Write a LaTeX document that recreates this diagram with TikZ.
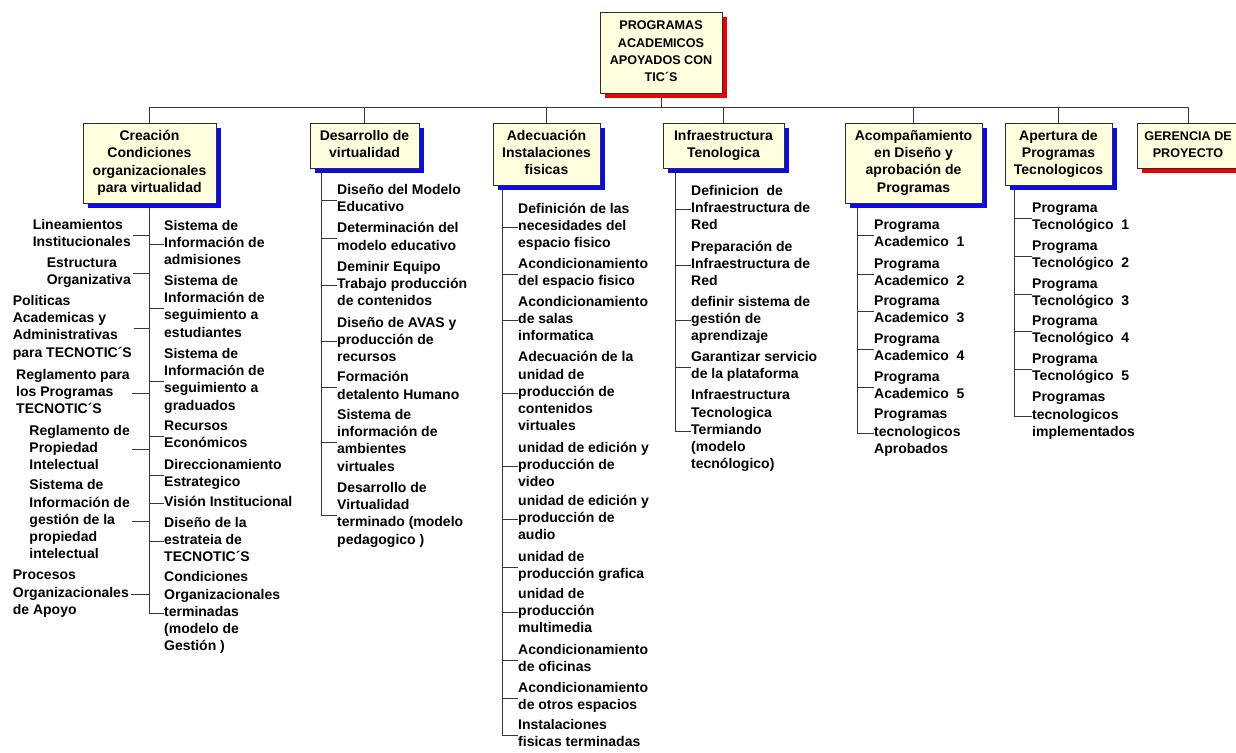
\documentclass[tikz,border=0pt]{standalone}
\usepackage{fontspec}
\setmainfont{Liberation Sans}
\usetikzlibrary{shadows,backgrounds}
\definecolor{boxfill}{RGB}{255,255,224}
\definecolor{boxline}{RGB}{45,45,45}
\definecolor{connline}{RGB}{55,55,55}
\definecolor{shblue}{RGB}{10,10,235}
\definecolor{shred}{RGB}{240,0,0}
\newcommand{\wbsfont}{\fontsize{14}{17.3}\selectfont\bfseries}
\newcommand{\capsfont}{\fontsize{12.6}{17.3}\selectfont\bfseries}
% struts placed inside the first and last line of every text
\newcommand{\stA}{\rule[-3pt]{0pt}{13pt}}
\newcommand{\stB}{\rule[-3.5pt]{0pt}{13pt}}
\tikzset{
  wbs/.style={draw=boxline, line width=0.9pt, fill=boxfill, align=center,
    font=\wbsfont, inner sep=0pt},
  capsbox/.style={wbs, font=\capsfont},
  blueshadow/.style={drop shadow={shadow xshift=5pt, shadow yshift=-5pt,
    fill=shblue, opacity=1}},
  redshadow/.style={drop shadow={shadow xshift=5pt, shadow yshift=-5pt,
    fill=shred, opacity=1}},
  item/.style={anchor=west, align=left, font=\wbsfont, inner sep=0pt},
  itemL/.style={item, anchor=east},
  conn/.style={draw=connline, line width=0.9pt}
}
\begin{document}
\begin{tikzpicture}[x=1pt,y=-1pt]
\path[use as bounding box] (0,0) rectangle (1236,752);
\clip (0,0) rectangle (1236,752);

% ---- boxes ----
\node[capsbox, redshadow, minimum width=122pt, minimum height=81pt] (top) at (661,52.5)
  {\stA PROGRAMAS\\ACADEMICOS\\APOYADOS CON\\TIC´S\stB};
\node[wbs, blueshadow, minimum width=133pt, minimum height=80pt] (c1) at (149.5,163)
  {\stA Creación\\Condiciones\\organizacionales\\para virtualidad\stB};
\node[wbs, blueshadow, minimum width=109pt, minimum height=45pt] (c2) at (364.5,145.5)
  {\stA Desarrollo de\\virtualidad\stB};
\node[wbs, blueshadow, minimum width=107pt, minimum height=62pt] (c3) at (546.5,154)
  {\stA Adecuación\\Instalaciones\\fisicas\stB};
\node[wbs, blueshadow, minimum width=121pt, minimum height=45pt] (c4) at (723.5,145.5)
  {\stA Infraestructura\\Tenologica\stB};
\node[wbs, blueshadow, minimum width=137pt, minimum height=80pt] (c5) at (913.5,163)
  {\stA Acompañamiento\\en Diseño y\\aprobación de\\Programas\stB};
\node[wbs, blueshadow, minimum width=107pt, minimum height=62pt] (c6) at (1058.5,154)
  {\stA Apertura de\\Programas\\Tecnologicos\stB};
\node[capsbox, redshadow, minimum width=102pt, minimum height=45pt] (c7) at (1188,145.5)
  {\stA GERENCIA DE\\PROYECTO\stB};

\coordinate (bus) at (0,107);
\coordinate (k1) at (c1.south);
\coordinate (k2) at ([xshift=12pt]c2.south west);
\coordinate (k3) at ([xshift=10pt]c3.south west);
\coordinate (k4) at ([xshift=13pt]c4.south west);
\coordinate (k5) at ([xshift=13pt]c5.south west);
\coordinate (k6) at ([xshift=10pt]c6.south west);

% ---- Creación: left items ----
\node[itemL] (L1) at (131,235) {\stA Lineamientos\\Institucionales\stB};
\node[itemL] (L2) at (131,273) {\stA Estructura\\Organizativa\stB};
\node[itemL] (L3) at (132,328) {\stA Politicas\\Academicas y\\Administrativas\\para TECNOTIC´S\stB};
\node[itemL] (L4) at (130,393) {\stA Reglamento para\\los Programas\\TECNOTIC´S\stB};
\node[itemL] (L5) at (130,449) {\stA Reglamento de\\Propiedad\\Intelectual\stB};
\node[itemL] (L6) at (130,521) {\stA Sistema de\\Información de\\gestión de la\\propiedad\\intelectual\stB};
\node[itemL] (L7) at (129,594) {\stA Procesos\\Organizacionales\\de Apoyo\stB};
% ---- Creación: right items ----
\node[item] (R1) at (164,244) {\stA Sistema de\\Información de\\admisiones\stB};
\node[item] (R2) at (164,308) {\stA Sistema de\\Información de\\seguimiento a\\estudiantes\stB};
\node[item] (R3) at (164,381) {\stA Sistema de\\Información de\\seguimiento a\\graduados\stB};
\node[item] (R4) at (164,436) {\stA Recursos\\Económicos\stB};
\node[item] (R5) at (164,475) {\stA Direccionamiento\\Estrategico\stB};
\node[item] (R6) at (164,503) {\stA Visión Institucional\stB};
\node[item] (R7) at (164,541) {\stA Diseño de la\\estrateia de\\TECNOTIC´S\stB};
\node[item] (R8) at (164,613) {\stA Condiciones\\Organizacionales\\terminadas\\(modelo de\\Gestión )\stB};

% ---- Desarrollo ----
\node[item] (D1) at (337,200) {\stA Diseño del Modelo\\Educativo\stB};
\node[item] (D2) at (337,238) {\stA Determinación del\\modelo educativo\stB};
\node[item] (D3) at (337,285) {\stA Deminir Equipo\\Trabajo producción\\de contenidos\stB};
\node[item] (D4) at (337,341) {\stA Diseño de AVAS y\\producción de\\recursos\stB};
\node[item] (D5) at (337,387) {\stA Formación\\detalento Humano\stB};
\node[item] (D6) at (337,442) {\stA Sistema de\\información de\\ambientes\\virtuales\stB};
\node[item] (D7) at (337,515) {\stA Desarrollo de\\Virtualidad\\terminado (modelo\\pedagogico )\stB};

% ---- Adecuación ----
\node[item] (A1) at (518,227) {\stA Definición de las\\necesidades del\\espacio fisico\stB};
\node[item] (A2) at (518,274) {\stA Acondicionamiento\\del espacio fisico\stB};
\node[item] (A3) at (518,320) {\stA Acondicionamiento\\de salas\\informatica\stB};
\node[item] (A4) at (518,393) {\stA Adecuación de la\\unidad de\\producción de\\contenidos\\virtuales\stB};
\node[item] (A5) at (518,466) {\stA unidad de edición y\\producción de\\video\stB};
\node[item] (A6) at (518,519) {\stA unidad de edición y\\producción de\\audio\stB};
\node[item] (A7) at (518,567) {\stA unidad de\\producción grafica\stB};
\node[item] (A8) at (518,612) {\stA unidad de\\producción\\multimedia\stB};
\node[item] (A9) at (518,660) {\stA Acondicionamiento\\de oficinas\stB};
\node[item] (A10) at (518,698) {\stA Acondicionamiento\\de otros espacios\stB};
\node[item] (A11) at (518,735) {\stA Instalaciones\\fisicas terminadas\stB};

% ---- Infraestructura ----
\node[item] (I1) at (691,209) {\stA Definicion\ \ de\\Infraestructura de\\Red\stB};
\node[item] (I2) at (691,265) {\stA Preparación de\\Infraestructura de\\Red\stB};
\node[item] (I3) at (691,320) {\stA definir sistema de\\gestión de\\aprendizaje\stB};
\node[item] (I4) at (691,367) {\stA Garantizar servicio\\de la plataforma\stB};
\node[item] (I5) at (691,431) {\stA Infraestructura\\Tecnologica\\Termiando\\(modelo\\tecnólogico)\stB};

% ---- Acompañamiento ----
\node[item] (P1) at (874,235) {\stA Programa\\Academico\ \ 1\stB};
\node[item] (P2) at (874,274) {\stA Programa\\Academico\ \ 2\stB};
\node[item] (P3) at (874,311) {\stA Programa\\Academico\ \ 3\stB};
\node[item] (P4) at (874,349) {\stA Programa\\Academico\ \ 4\stB};
\node[item] (P5) at (874,387) {\stA Programa\\Academico\ \ 5\stB};
\node[item] (P6) at (874,433) {\stA Programas\\tecnologicos\\Aprobados\stB};

% ---- Apertura ----
\node[item] (T1) at (1032,218) {\stA Programa\\Tecnológico\ \ 1\stB};
\node[item] (T2) at (1032,256) {\stA Programa\\Tecnológico\ \ 2\stB};
\node[item] (T3) at (1032,294) {\stA Programa\\Tecnológico\ \ 3\stB};
\node[item] (T4) at (1032,331) {\stA Programa\\Tecnológico\ \ 4\stB};
\node[item] (T5) at (1032,369) {\stA Programa\\Tecnológico\ \ 5\stB};
\node[item] (T6) at (1032,416) {\stA Programas\\tecnologicos\\implementados\stB};

% ---- connectors (behind the boxes and their shadows) ----
\begin{scope}[on background layer]
  \fill[white] (0,0) rectangle (1236,752);
  \foreach \c in {c1,c2,c3,c4,c5,c6,c7}
    \draw[conn] (top.south) -- (top.south |- bus) -| (\c.north);
  % Creación
  \draw[conn] (k1) -- (k1 |- R8.west) -- (R8.west);
  \foreach \n in {R1,R2,R3,R4,R5,R6,R7}
    \draw[conn] (k1 |- \n.west) -- (\n.west);
  \foreach \n in {L1,L2,L3,L4,L5,L6,L7}
    \draw[conn] ([xshift=2pt]\n.east) -- (k1 |- \n.east);
  % Desarrollo
  \draw[conn] (k2) -- (k2 |- D7.west) -- (D7.west);
  \foreach \n in {D1,D2,D3,D4,D5,D6}
    \draw[conn] (k2 |- \n.west) -- (\n.west);
  % Adecuación
  \draw[conn] (k3) -- (k3 |- A11.west) -- (A11.west);
  \foreach \n in {A1,A2,A3,A4,A5,A6,A7,A8,A9,A10}
    \draw[conn] (k3 |- \n.west) -- (\n.west);
  % Infraestructura
  \draw[conn] (k4) -- (k4 |- I5.west) -- (I5.west);
  \foreach \n in {I1,I2,I3,I4}
    \draw[conn] (k4 |- \n.west) -- (\n.west);
  % Acompañamiento
  \draw[conn] (k5) -- (k5 |- P6.west) -- (P6.west);
  \foreach \n in {P1,P2,P3,P4,P5}
    \draw[conn] (k5 |- \n.west) -- (\n.west);
  % Apertura
  \draw[conn] (k6) -- (k6 |- T6.west) -- (T6.west);
  \foreach \n in {T1,T2,T3,T4,T5}
    \draw[conn] (k6 |- \n.west) -- (\n.west);
\end{scope}
\end{tikzpicture}
\end{document}
